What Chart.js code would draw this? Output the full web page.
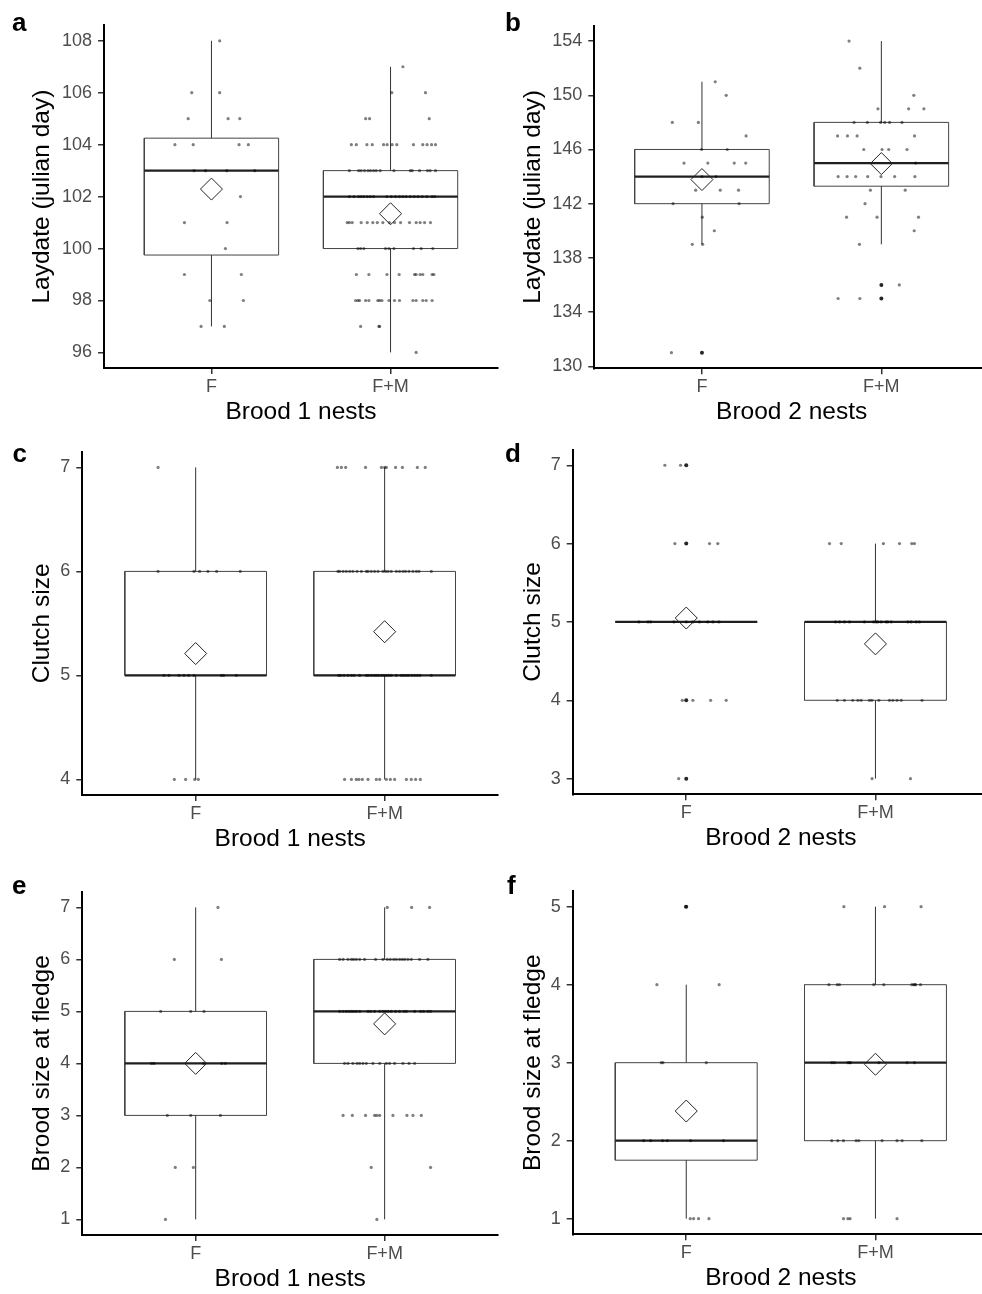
<!DOCTYPE html>
<html>
  <head>
    <title>Laydate, clutch size and brood size at fledge</title>
    <meta charset="UTF-8">
    <style>
      body {
        margin: 0;
        background: #fff;
      }
      #figure {
        position: relative;
        width: 982px;
        height: 1294px;
        overflow: hidden;
      }
      #figure canvas {
        position: absolute;
      }
      .tag {
        position: absolute;
        font: bold 26px "Liberation Sans", Arial, sans-serif;
        line-height: 26px;
        color: #000;
      }
    </style>
  </head>
  <body>
    <div id="figure">
      <canvas id="a" width="510" height="430" style="left:0px;top:0px"></canvas>
      <canvas id="b" width="510" height="430" style="left:491px;top:0px"></canvas>
      <canvas id="c" width="510" height="430" style="left:0px;top:430px"></canvas>
      <canvas id="d" width="510" height="430" style="left:491px;top:430px"></canvas>
      <canvas id="e" width="510" height="430" style="left:0px;top:870px"></canvas>
      <canvas id="f" width="510" height="430" style="left:491px;top:870px"></canvas>
      <div class="tag" style="left:12px;top:9px">a</div>
      <div class="tag" style="left:505px;top:9px">b</div>
      <div class="tag" style="left:12.5px;top:440px">c</div>
      <div class="tag" style="left:505px;top:440px">d</div>
      <div class="tag" style="left:12px;top:872px">e</div>
      <div class="tag" style="left:507px;top:872px">f</div>
    </div>
    <script src="https://cdn.jsdelivr.net/npm/chart.js@4.4.1/dist/chart.umd.min.js"></script>
    <script>
    var groups = ['F', 'F+M'];

    // box stats per group: [lower whisker, q1, median, q3, upper whisker, mean]
    // jittered points per group: rows of [value, [horizontal jitter offsets]]

    // a - laydate, brood 1
    var aTicks = [96, 98, 100, 102, 104, 106, 108];
    var aBox = [[97, 99.75, 103, 104.25, 108, 102.29], [96, 100, 102, 103, 107, 101.34]];
    var aOut = [[], []];
    var aF = [[108, [.046]], [106, [-.110, .046]], [105, [-.130, .093, .158]], [104, [-.204, -.102, .154, .206]],
      [103, [-.097, -.033, .086, .242]], [102, [.162]], [101, [-.151, .087]], [100, [.078]],
      [99, [-.151, .167]], [98, [-.009, .178]], [97, [-.058, .072]]];
    var aFM = [[107, [.069]], [106, [.007, .195]], [105, [-.139, -.117, .216]],
      [104, [-.219, -.191, -.132, -.102, -.039, -.019, .009, .035, .128, .180, .204, .229, .251]],
      [103, [-.230, -.178, -.164, -.145, -.126, -.112, -.095, -.080, -.058, .019, .110, .121, .162, .206, .221, .251]],
      [102, [-.230, -.204, -.178, -.164, -.149, -.130, -.113, -.095, -.020, .004, .028, .050, .069, .087, .110, .132, .154, .177, .203, .232, .247]],
      [101, [-.242, -.230, -.214, -.164, -.130, -.099, -.074, -.043, -.006, .022, .056, .106, .143, .165, .190, .223]],
      [100, [-.182, -.167, -.149, -.028, -.009, .019, .128, .171, .236]],
      [99, [-.191, -.121, -.020, .048, .134, .143, .165, .180, .232, .242]],
      [98, [-.195, -.182, -.173, -.139, -.121, -.071, -.061, -.048, -.009, .022, .050, .125, .143, .180, .199, .232]],
      [97, [-.167, -.065, -.061]], [96, [.143]]];

    // b - laydate, brood 2
    var bTicks = [130, 134, 138, 142, 146, 150, 154];
    var bBox = [[139, 142, 144, 146, 151, 143.78], [139, 143.29, 145, 148, 154, 144.96]];
    var bOut = [[131], [136, 135]];
    var bF = [[151, [.074]], [150, [.135]], [148, [-.165, -.020]], [147, [.246]], [146, [-.002, .141]],
      [145, [-.100, .033, .180, .244]], [144, [0, .078]], [143, [-.035, .102, .204]], [142, [-.161, .207]],
      [141, [.002]], [140, [.069]], [139, [-.054, .004]], [131, [-.170]]];
    var bFM = [[154, [-.180]], [152, [-.120]], [150, [.181]], [149, [-.019, .152, .237]],
      [148, [-.152, -.078, -.004, .019, .046, .115]], [147, [-.244, -.189, -.135, .185]],
      [146, [-.098, .004, .041, .143]], [145, [.191]], [144, [-.241, -.191, -.143, -.076, -.002, .074, .187]],
      [143, [-.061, .133]], [142, [-.091]], [141, [-.194, -.024, .207]], [140, [.183]], [139, [-.122]],
      [136, [.100]], [135, [-.241, -.120]]];

    // c - clutch size, brood 1
    var cTicks = [4, 5, 6, 7];
    var cBox = [[4, 5, 5, 6, 7, 5.21], [4, 5, 5, 6, 7, 5.42]];
    var cOut = [[], []];
    var cF = [[7, [-.199]], [6, [-.199, -.009, .021, .065, .111, .236]],
      [5, [-.168, -.141, -.088, -.062, -.037, -.009, .136, .148, .215]], [4, [-.113, -.053, -.005, .014]]];
    var cFM = [[7, [-.250, -.229, -.206, -.101, -.017, 0, .009, .058, .094, .173, .215]],
      [6, [-.247, -.238, -.220, -.203, -.185, -.168, -.146, -.123, -.097, -.088, -.071, -.053, -.035, -.009, .005, .018, .035, .062, .079, .097, .111, .129, .150, .168, .182, .247]],
      [5, [-.243, -.233, -.215, -.194, -.176, -.162, -.132, -.097, -.085, -.070, -.056, -.044, -.032, -.017, -.004, .009, .021, .035, .062, .088, .101, .115, .127, .144, .159, .173, .187, .247]],
      [4, [-.212, -.176, -.150, -.136, -.118, -.088, -.044, -.026, .009, .030, .053, .115, .141, .164, .189]]];

    // d - clutch size, brood 2
    var dTicks = [3, 4, 5, 6, 7];
    var dBox = [[5, 5, 5, 5, 5, 5.05], [3, 4, 5, 5, 6, 4.72]];
    var dOut = [[7, 6, 4, 3], []];
    var dF = [[7, [-.113, -.030]], [6, [-.060, .123, .167]],
      [5, [-.250, -.202, -.188, -.065, 0, .035, .070, .114, .141, .173]],
      [4, [-.021, .035, .129, .211]], [3, [-.040]]];
    var dFM = [[6, [-.243, -.181, .042, .127, .192, .206]],
      [5, [-.211, -.190, -.164, -.137, -.058, -.009, .004, .012, .030, .056, .065, .083, .171, .188, .215, .232]],
      [4, [-.202, -.164, -.120, -.093, -.076, -.032, -.019, .018, .074, .092, .114, .136, .246]],
      [3, [-.018, .185]]];

    // e - brood size at fledge, brood 1
    var eTicks = [1, 2, 3, 4, 5, 6, 7];
    var eBox = [[1, 3, 4, 5, 7, 4.0], [1, 4, 5, 6, 7, 4.76]];
    var eOut = [[], []];
    var eF = [[7, [.118]], [6, [-.113, .136]], [5, [-.185, -.026, .044]], [4, [-.233, -.220, .042, .138, .157]],
      [3, [-.150, -.026, .131]], [2, [-.108, -.012]], [1, [-.160]]];
    var eFM = [[7, [.014, .143, .238]],
      [6, [-.238, -.220, -.194, -.176, -.164, -.150, -.132, -.106, -.048, -.009, .014, .030, .048, .062, .079, .093, .106, .123, .141, .185, .229]],
      [5, [-.238, -.220, -.203, -.189, -.176, -.164, -.150, -.132, -.088, -.074, -.053, -.026, -.009, .004, .018, .035, .058, .079, .102, .115, .159, .190, .206, .229, .243]],
      [4, [-.212, -.194, -.168, -.146, -.132, -.115, -.097, -.062, -.026, .009, .026, .053, .097, .129, .159]],
      [3, [-.220, -.171, -.101, -.053, -.041, -.026, .044, .118, .150, .194]],
      [2, [-.071, .243]], [1, [-.041]]];

    // f - brood size at fledge, brood 2
    var fTicks = [1, 2, 3, 4, 5];
    var fBox = [[1, 1.75, 2, 3, 4, 2.38], [1, 2, 3, 4, 5, 2.98]];
    var fOut = [[5], []];
    var fF = [[5, [-.004]], [4, [-.155, .174]], [3, [-.132, -.123, .106]],
      [2, [-.225, -.188, -.125, -.100, .023, .197]], [1, [.021, .039, .065, .120]]];
    var fFM = [[5, [-.167, .048, .241]], [4, [-.246, -.202, -.190, -.009, .044, .192, .202, .208, .213, .238]],
      [3, [-.231, -.217, -.146, -.137, -.132, .018, .167, .206]],
      [2, [-.231, -.199, -.169, -.102, -.088, .035, .114, .141, .245]],
      [1, [-.169, -.146, -.134, .114]]];

    Chart.defaults.font.family = '"Liberation Sans", Arial, sans-serif';

    var HALF = 0.375; // half of the box width, in category units

    function jitter(rows, centre) {
        var pts = [];
        rows.forEach(function (row) {
            row[1].forEach(function (dx) {
                pts.push({x: centre + dx, y: row[0]});
            });
        });
        return pts;
    }

    function segment(data, width, color) {
        return {
            data: data,
            showLine: true,
            borderColor: color,
            borderWidth: width,
            pointRadius: 0,
            pointHoverRadius: 0,
            fill: false,
            tension: 0
        };
    }

    function panel(id, geo, yTitle, xTitle, ticks, box, outliers, rowsF, rowsFM) {
        var points = jitter(rowsF, 1).concat(jitter(rowsFM, 2));
        var values = points.map(function (p) { return p.y; });
        var lo = Math.min.apply(null, values);
        var hi = Math.max.apply(null, values);
        var pad = (hi - lo) * 0.05;

        var means = [], outs = [], lines = [];
        box.forEach(function (s, g) {
            var c = g + 1;
            means.push({x: c, y: s[5]});
            outliers[g].forEach(function (v) { outs.push({x: c, y: v}); });
            lines.push(segment([{x: c - HALF, y: s[2]}, {x: c + HALF, y: s[2]}], 2.2, '#1f1f1f'));
            lines.push(segment([{x: c, y: s[3]}, {x: c, y: s[4]}], 1, '#333'));
            lines.push(segment([{x: c, y: s[0]}, {x: c, y: s[1]}], 1, '#333'));
            lines.push(segment([{x: c - HALF, y: s[1]}, {x: c + HALF, y: s[1]}, {x: c + HALF, y: s[3]},
                {x: c - HALF, y: s[3]}, {x: c - HALF, y: s[1]}], 1, '#444'));
        });

        // first dataset is drawn on top
        var datasets = [
            {data: means, pointStyle: 'rectRot', pointRadius: 11, pointHoverRadius: 11,
             backgroundColor: 'rgba(0,0,0,0)', borderColor: '#222', borderWidth: 1},
            {data: points, pointRadius: 1.6, pointHoverRadius: 1.6, borderWidth: 0,
             backgroundColor: 'rgba(0,0,0,0.5)'},
            {data: outs, pointRadius: 2, pointHoverRadius: 2, borderWidth: 0, backgroundColor: '#262626'}
        ].concat(lines);

        var tickFont = {size: 18};
        var titleFont = {size: 24.5};

        new Chart(document.getElementById(id), {
            type: 'scatter',
            data: {datasets: datasets},
            options: {
                responsive: false,
                animation: false,
                events: [],
                // chart.js keeps ~12px on the right, the canvas is 510 wide so the plot ends at 498
                layout: {padding: {left: 0, right: 0, top: geo.top, bottom: 430 - geo.bottom - 60}},
                plugins: {legend: {display: false}, tooltip: {enabled: false}},
                scales: {
                    x: {
                        type: 'linear',
                        min: 0.4,
                        max: 2.6,
                        afterBuildTicks: function (axis) {
                            axis.ticks = [{value: 1}, {value: 2}];
                        },
                        afterFit: function (axis) { axis.height = 60; },
                        ticks: {
                            callback: function (v) { return groups[v - 1]; },
                            color: '#4d4d4d',
                            font: tickFont,
                            padding: 2,
                            maxRotation: 0,
                            autoSkip: false
                        },
                        grid: {drawOnChartArea: false, drawTicks: true, tickLength: 6, color: '#333', lineWidth: 1.5},
                        border: {display: true, color: '#000', width: 2},
                        title: {display: true, text: xTitle, color: '#000', font: titleFont, padding: {top: 0, bottom: 1.5}}
                    },
                    y: {
                        type: 'linear',
                        min: lo - pad,
                        max: hi + pad,
                        afterBuildTicks: function (axis) {
                            axis.ticks = ticks.map(function (v) { return {value: v}; });
                        },
                        afterFit: function (axis) { axis.width = geo.yw; },
                        ticks: {color: '#4d4d4d', font: tickFont, padding: 6},
                        grid: {drawOnChartArea: false, drawTicks: true, tickLength: 6, color: '#333', lineWidth: 1.5},
                        border: {display: true, color: '#000', width: 2},
                        title: {display: true, text: yTitle, color: '#000', font: titleFont, padding: {top: 28, bottom: 0}}
                    }
                }
            }
        });
    }

    panel('a', {yw: 104, top: 25.2, bottom: 368}, 'Laydate (julian day)', 'Brood 1 nests', aTicks, aBox, aOut, aF, aFM);
    panel('b', {yw: 103.3, top: 25.5, bottom: 368.3}, 'Laydate (julian day)', 'Brood 2 nests', bTicks, bBox, bOut, bF, bFM);
    panel('c', {yw: 82.3, top: 21.8, bottom: 365}, 'Clutch size', 'Brood 1 nests', cTicks, cBox, cOut, cF, cFM);
    panel('d', {yw: 81.7, top: 19.6, bottom: 364.3}, 'Clutch size', 'Brood 2 nests', dTicks, dBox, dOut, dF, dFM);
    panel('e', {yw: 82.3, top: 21.8, bottom: 365}, 'Brood size at fledge', 'Brood 1 nests', eTicks, eBox, eOut, eF, eFM);
    panel('f', {yw: 81.7, top: 21.1, bottom: 364.3}, 'Brood size at fledge', 'Brood 2 nests', fTicks, fBox, fOut, fF, fFM);
    </script>
  </body>
</html>
